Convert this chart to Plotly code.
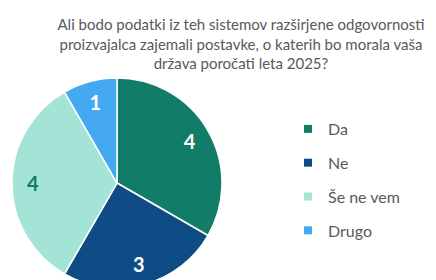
import plotly.graph_objects as go

categories = ["Da", "Ne", "Še ne vem", "Drugo"]
values = [4, 3, 4, 1]
colors = ["#117D68", "#0F4C86", "#A4E4D6", "#45A9F2"]
text_colors = ["#FFFFFF", "#FFFFFF", "#117D68", "#FFFFFF"]
title_text = ("Ali bodo podatki iz teh sistemov razširjene odgovornosti<br>"
              "proizvajalca zajemali postavke, o katerih bo morala vaša<br>"
              "država poročati leta 2025?")

W, H = 436, 280
dom = dict(x=[3 / W, 215 / W], y=[0, 210 / H])
fig = go.Figure()
# filled pie
fig.add_trace(go.Pie(
    labels=categories, values=values, sort=False, direction="clockwise", rotation=0,
    marker=dict(colors=colors, line=dict(color="white", width=1.5)),
    textinfo="none", domain=dom, showlegend=False, hoverinfo="label+value",
))
# transparent ring overlay carrying the value labels (places them near the rim)
fig.add_trace(go.Pie(
    labels=categories, values=values, sort=False, direction="clockwise", rotation=0,
    hole=0.6,
    marker=dict(colors=["rgba(0,0,0,0)"] * len(values), line=dict(width=0)),
    textinfo="value", textposition="inside", insidetextorientation="horizontal",
    textfont=dict(family="Lato", size=20, color=text_colors, weight="bold"),
    domain=dom, showlegend=False, hoverinfo="skip",
))
for c, col in zip(categories, colors):
    fig.add_trace(go.Scatter(
        x=[None], y=[None], mode="markers", name=c, legendgroup=c,
        marker=dict(symbol="square", size=8, color=col), showlegend=True,
    ))

fig.update_layout(
    width=W, height=H, margin=dict(l=0, r=0, t=0, b=0),
    paper_bgcolor="white", plot_bgcolor="white",
    font=dict(family="Lato", color="#595959"),
    title=dict(text=title_text, x=233 / W, xanchor="center", y=1 - 22 / H, yanchor="top",
               font=dict(family="Lato", size=15, color="#595959")),
    xaxis=dict(visible=False), yaxis=dict(visible=False),
    legend=dict(x=280 / W, xanchor="left", y=1 - 104 / H, yanchor="top",
                font=dict(family="Lato", size=16, color="#595959"),
                tracegroupgap=10, bgcolor="rgba(0,0,0,0)"),
)
fig.write_html("out.html")
